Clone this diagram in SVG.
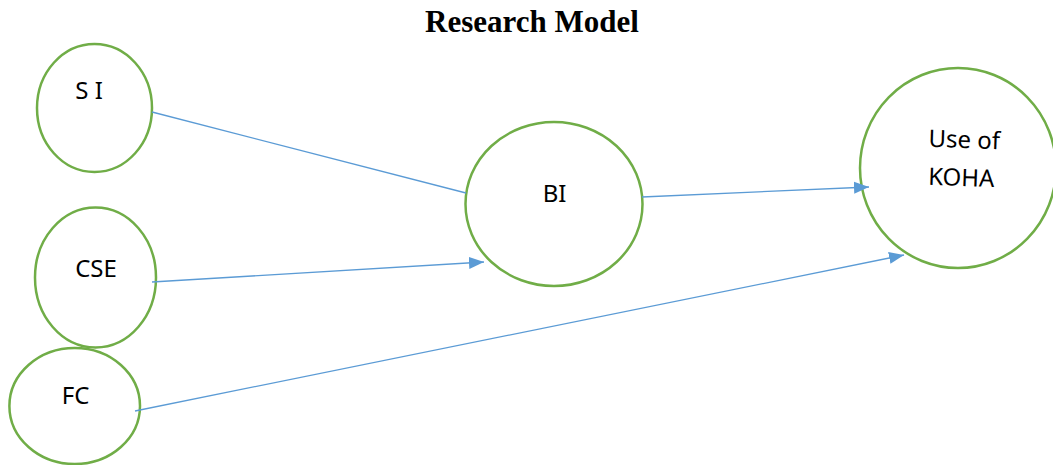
<svg xmlns="http://www.w3.org/2000/svg" width="1053" height="465" viewBox="0 0 1053 465">
<style>
.node{fill:#fff;stroke:#70AD47;stroke-width:2.5}
.lbl{font-family:"Noto Sans","Liberation Sans",sans-serif;font-size:24px;fill:#000}
.edge{stroke:#5B9BD5;stroke-width:1.3;fill:none}
.title{font-family:"Liberation Serif",serif;font-weight:bold;font-size:31px;fill:#000}
</style>
<defs>
<marker id="arr" markerUnits="userSpaceOnUse" markerWidth="16" markerHeight="14" refX="15" refY="7" orient="auto">
<path d="M0,1 L15,7 L0,13 Z" fill="#5B9BD5"/>
</marker>
</defs>
<rect width="1053" height="465" fill="#fff"/>
<text class="title" x="532" y="32" text-anchor="middle">Research Model</text>
<g id="n-si"><ellipse class="node" cx="94.5" cy="108" rx="57.5" ry="64"/><text class="lbl" x="89" y="99" text-anchor="middle">S I</text></g>
<g id="n-cse"><ellipse class="node" cx="95.5" cy="277.5" rx="60.5" ry="70"/><text class="lbl" x="96" y="277" text-anchor="middle">CSE</text></g>
<g id="n-fc"><ellipse class="node" cx="74.7" cy="406" rx="65.3" ry="58"/><text class="lbl" x="75.5" y="404" text-anchor="middle">FC</text></g>
<g id="n-bi"><ellipse class="node" cx="554" cy="204" rx="88.5" ry="82"/><text class="lbl" x="554.5" y="202" text-anchor="middle">BI</text></g>
<g id="n-koha"><ellipse class="node" cx="958" cy="168" rx="98" ry="100"/>
<text class="lbl" x="964" y="148" text-anchor="middle" transform="rotate(2 964 148)">Use of</text>
<text class="lbl" x="961" y="186" text-anchor="middle" transform="rotate(2 961 186)">KOHA</text></g>
<g id="connectors">
<line class="edge" x1="152" y1="112" x2="466" y2="193"/>
<line class="edge" x1="152" y1="282" x2="484" y2="262" marker-end="url(#arr)"/>
<line class="edge" x1="642" y1="197" x2="869" y2="187" marker-end="url(#arr)"/>
<line class="edge" x1="135" y1="411" x2="904" y2="255" marker-end="url(#arr)"/>
</g>
</svg>
